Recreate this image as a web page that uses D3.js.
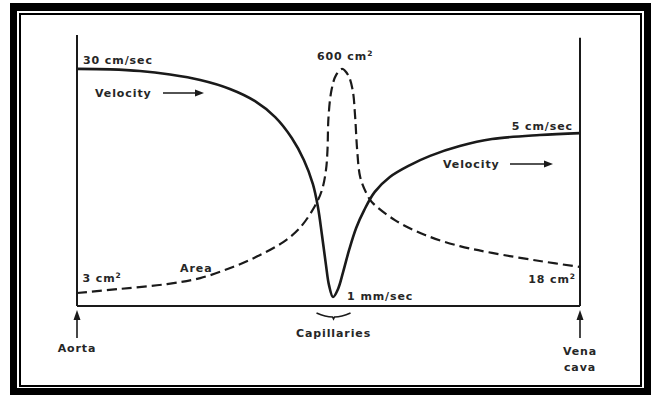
<!DOCTYPE html>
<html lang="en">
<head>
    <meta charset="UTF-8">
    <title>Velocity and cross-sectional area along the circulation</title>
    <style>
        body { margin: 0; background: #fff; }
        svg { display: block; }
        .lbl { font-family: "DejaVu Sans", Arial, sans-serif; font-weight: bold; font-size: 11px; letter-spacing: 0.9px; fill: #262626; }
    </style>
    <script src="https://d3js.org/d3.v7.min.js"></script>
</head>
<body>
<div id="chart"></div>
<script>
    // position along the circulation, 0 = aorta, 100 = vena cava
    const velX = [0, 6.6, 12.5, 18.5, 24.5, 30.4, 35.4, 39.4, 42.7, 45.1, 46.9, 47.9, 48.7, 49.5, 50.1, 50.9, 51.9, 52.9, 54.1, 55.5, 57.1, 59.2, 62.2, 66.2, 70.2, 76.1, 82.5, 92, 100];
    const velocity = [87.5, 87.3, 86.7, 85.4, 83.4, 80.1, 75.6, 69.7, 62.0, 53.9, 45.0, 36.5, 26.2, 15.1, 7.7, 3.3, 6.3, 12.5, 20.7, 28.8, 35.4, 42.1, 47.6, 52, 55.4, 59, 61.6, 63.1, 63.8];

    const areaX = [0, 8.5, 17.9, 24.5, 31.0, 36.4, 41.0, 44.3, 47.3, 48.7, 49.5, 49.8, 50.0, 50.6, 51.5, 52.7, 53.9, 54.8, 55.3, 55.7, 56.3, 57.5, 58.6, 63.2, 69.2, 76.1, 82.5, 92, 100];
    const area = [4.8, 6.3, 8.1, 10.3, 14.4, 18.8, 23.6, 28.8, 36.9, 42.8, 50.2, 57.6, 69.7, 79.7, 85.2, 87.5, 85.2, 79.7, 69.7, 57.6, 47.6, 41.7, 38.4, 31.7, 26.2, 22.1, 19.6, 16.6, 14.4];

    const stations = ["Aorta", "Capillaries", ["Vena", "cava"]];
    const stationX = [0, 51, 100];

    const W = 655, H = 395;
    const x = d3.scaleLinear().domain([0, 100]).range([77, 580]);
    const y = d3.scaleLinear().domain([0, 100]).range([306, 35]);

    const svg = d3.select("#chart").append("svg")
        .attr("width", W).attr("height", H);

    // picture frame
    svg.append("rect").attr("x", 10).attr("y", 3).attr("width", 641).attr("height", 392).attr("fill", "#000");
    svg.append("rect").attr("x", 17).attr("y", 11).attr("width", 627).attr("height", 377).attr("fill", "#fff");
    svg.append("rect").attr("x", 20).attr("y", 14).attr("width", 621).attr("height", 372)
        .attr("fill", "none").attr("stroke", "#000").attr("stroke-width", 2);

    const ink = "#1a1a1a";

    // axes: baseline and the two end walls
    svg.append("line").attr("x1", x(0)).attr("x2", x(100)).attr("y1", y(0)).attr("y2", y(0))
        .attr("stroke", ink).attr("stroke-width", 2);
    svg.append("line").attr("x1", x(0)).attr("x2", x(0)).attr("y1", y(0)).attr("y2", y(100))
        .attr("stroke", ink).attr("stroke-width", 2);
    svg.append("line").attr("x1", x(100)).attr("x2", x(100)).attr("y1", y(0)).attr("y2", y(99))
        .attr("stroke", ink).attr("stroke-width", 2);

    const line = d3.line().curve(d3.curveCatmullRom.alpha(0.5));

    svg.append("path")
        .attr("d", line(areaX.map((d, i) => [x(d), y(area[i])])))
        .attr("fill", "none").attr("stroke", ink).attr("stroke-width", 2.2)
        .attr("stroke-dasharray", "10,5");

    svg.append("path")
        .attr("d", line(velX.map((d, i) => [x(d), y(velocity[i])])))
        .attr("fill", "none").attr("stroke", ink).attr("stroke-width", 2.6);

    // labels
    function label(px, py, txt, sup, anchor) {
        const t = svg.append("text").attr("class", "lbl")
            .attr("x", px).attr("y", py).attr("text-anchor", anchor || "start").text(txt);
        if (sup) {
            t.append("tspan").attr("dy", -4).attr("font-size", "7.5px").text(sup);
        }
        return t;
    }

    label(x(1.2), y(89.3), "30 cm/sec");
    label(x(53.3), y(90.8), "600 cm", "2", "middle");
    label(x(98.6), y(65), "5 cm/sec", null, "end");
    label(x(1.1), y(8.8), "3 cm", "2");
    label(x(20.5), y(12.5), "Area");
    label(x(53.7), y(2.2), "1 mm/sec");
    label(x(99.2), y(8.5), "18 cm", "2", "end");

    function velocityTag(px, py, ax1, ax2) {
        label(px, py, "Velocity");
        svg.append("line").attr("x1", ax1).attr("x2", ax2 - 7).attr("y1", py - 4).attr("y2", py - 4)
            .attr("stroke", ink).attr("stroke-width", 1.4);
        svg.append("path")
            .attr("d", `M${ax2},${py - 4} L${ax2 - 9},${py - 7.5} L${ax2 - 9},${py - 0.5} Z`)
            .attr("fill", ink);
    }
    velocityTag(95, 97, 163, 204);
    velocityTag(443, 168, 510, 553);

    // station arrows and names
    stations.forEach((s, i) => {
        const sx = x(stationX[i]);
        if (i === 1) {
            // brace under the capillaries
            svg.append("path")
                .attr("d", `M${sx - 17},${y(0) + 7} Q${sx - 8},${y(0) + 11} ${sx - 1},${y(0) + 11} L${sx},${y(0) + 13} L${sx + 1},${y(0) + 11} Q${sx + 8},${y(0) + 11} ${sx + 17},${y(0) + 7}`)
                .attr("fill", "none").attr("stroke", ink).attr("stroke-width", 1.6);
            label(sx, y(0) + 31, s, null, "middle");
            return;
        }
        svg.append("line").attr("x1", sx).attr("x2", sx).attr("y1", y(0) + 32).attr("y2", y(0) + 12)
            .attr("stroke", ink).attr("stroke-width", 1.6);
        svg.append("path")
            .attr("d", `M${sx},${y(0) + 4} L${sx - 3.5},${y(0) + 14} L${sx + 3.5},${y(0) + 14} Z`)
            .attr("fill", ink);
        const names = Array.isArray(s) ? s : [s];
        const base = names.length > 1 ? 49 : 46;
        names.forEach((n, j) => label(sx, y(0) + base + j * 16, n, null, "middle"));
    });
</script>
</body>
</html>
